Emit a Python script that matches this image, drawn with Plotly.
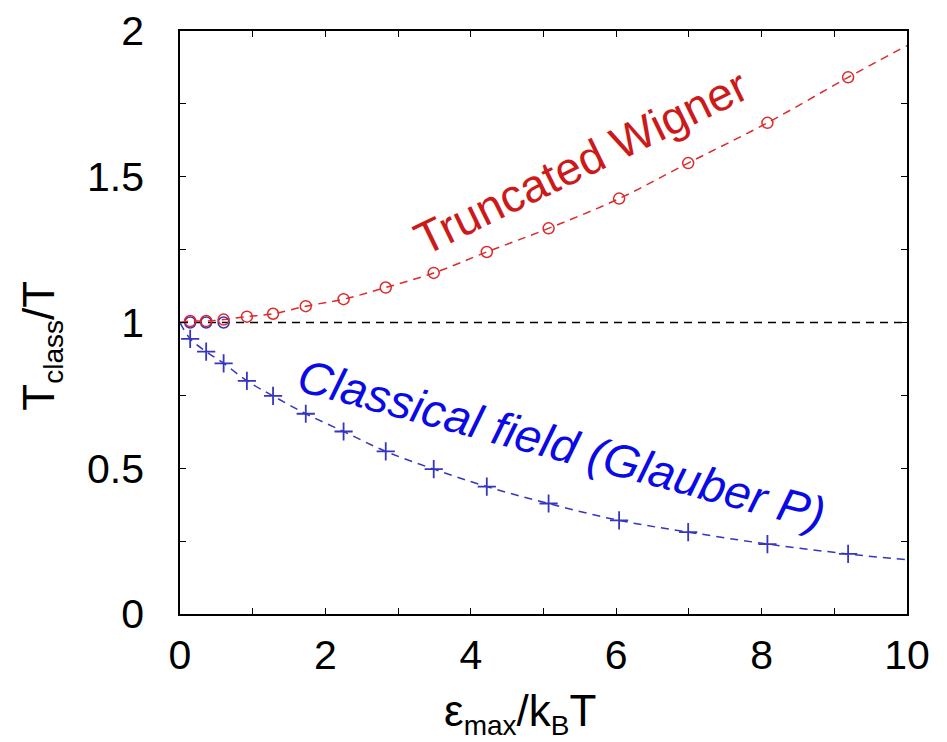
import plotly.graph_objects as go

# Data
tw_x = [0.14, 0.36, 0.60, 0.92, 1.28, 1.73, 2.25, 2.83, 3.49, 4.22, 5.07, 6.04, 6.99, 8.08, 9.19]
tw_y = [1.005, 1.005, 1.01, 1.02, 1.03, 1.056, 1.08, 1.12, 1.17, 1.242, 1.323, 1.425, 1.547, 1.685, 1.841]
cf_x = [0.14, 0.36, 0.60, 0.92, 1.28, 1.73, 2.25, 2.83, 3.49, 4.22, 5.07, 6.04, 6.99, 8.08, 9.19]
cf_y = [0.944, 0.90, 0.86, 0.80, 0.748, 0.687, 0.626, 0.558, 0.497, 0.437, 0.379, 0.321, 0.281, 0.240, 0.206]
cfo_x = [0.14, 0.36, 0.60]
cfo_y = [1.0, 1.0, 1.0]

tw_curve_x = [0.0] + tw_x + [10.0]
tw_curve_y = [1.0] + tw_y + [1.95]
cf_curve_x = [0.0] + cf_x + [10.0]
cf_curve_y = [1.0] + cf_y + [0.186]
ref_x = [0.0, 10.0]
ref_y = [1.0, 1.0]

RED = "#dd2a2a"
BLUE = "#3535c0"
FONT = "Liberation Sans, Arial, Helvetica, sans-serif"

fig = go.Figure()
fig.add_trace(go.Scatter(x=ref_x, y=ref_y, mode="lines",
                         line=dict(color="black", width=1.3, dash="8px,6px")))
fig.add_trace(go.Scatter(x=tw_curve_x, y=tw_curve_y, mode="lines", line_shape="spline",
                         line=dict(color=RED, width=1.5, dash="8px,6px")))
fig.add_trace(go.Scatter(x=cf_curve_x, y=cf_curve_y, mode="lines", line_shape="spline",
                         line=dict(color=BLUE, width=1.5, dash="8px,6px")))
fig.add_trace(go.Scatter(x=cfo_x, y=cfo_y, mode="markers",
                         marker=dict(symbol="circle-open", size=11, color=BLUE, line=dict(width=1.5, color=BLUE))))
fig.add_trace(go.Scatter(x=tw_x, y=tw_y, mode="markers",
                         marker=dict(symbol="circle-open", size=11, color=RED, line=dict(width=1.5, color=RED))))
fig.add_trace(go.Scatter(x=cf_x, y=cf_y, mode="markers",
                         marker=dict(symbol="cross-thin-open", size=13, color=BLUE, line=dict(width=1.8, color=BLUE))))

fig.add_annotation(x=5.52, y=1.55, xref="x", yref="y", text="Truncated Wigner",
                   showarrow=False, textangle=-26,
                   font=dict(family=FONT, size=46, color="#cc1a1a"))
fig.add_annotation(x=5.25, y=0.58, xref="x", yref="y", text="<i>Classical field (Glauber P)</i>",
                   showarrow=False, textangle=15,
                   font=dict(family=FONT, size=47, color="#0a0ae6"))

# axis titles
SUB = "<sub><span style='font-size:28px'>{}</span></sub>"
fig.add_annotation(x=-0.19, y=0.46, xref="paper", yref="paper",
                   text="T" + SUB.format("class") + "/T",
                   showarrow=False, textangle=-90, xanchor="center", yanchor="middle",
                   font=dict(family=FONT, size=44, color="black"))
fig.add_annotation(x=0.468, y=-0.17, xref="paper", yref="paper",
                   text="ε" + SUB.format("max") + "/k" + SUB.format("B") + "T",
                   showarrow=False, xanchor="center", yanchor="middle",
                   font=dict(family=FONT, size=44, color="black"))

axis_common = dict(showgrid=False, zeroline=False, showline=True, linecolor="black", linewidth=1.5,
                   mirror="ticks", ticks="inside", ticklen=6, tickwidth=1.2, tickcolor="black",
                   ticklabeloverflow="allow", automargin=False,
                   tickfont=dict(family=FONT, size=41, color="black"))
fig.update_xaxes(range=[0, 10], tick0=0, dtick=2,
                 minor=dict(dtick=1, ticks="inside", ticklen=6, tickcolor="black"),
                 ticklabelstandoff=4,
                 **axis_common)
fig.update_yaxes(range=[0, 2], tick0=0, dtick=0.5,
                 minor=dict(dtick=0.25, ticks="inside", ticklen=6, tickcolor="black"),
                 ticklabelstandoff=26,
                 **axis_common)

fig.update_layout(width=947, height=742, showlegend=False,
                  margin=dict(l=172, r=48, t=23, b=136, autoexpand=False),
                  plot_bgcolor="white", paper_bgcolor="white")
fig.write_html("out.html")
